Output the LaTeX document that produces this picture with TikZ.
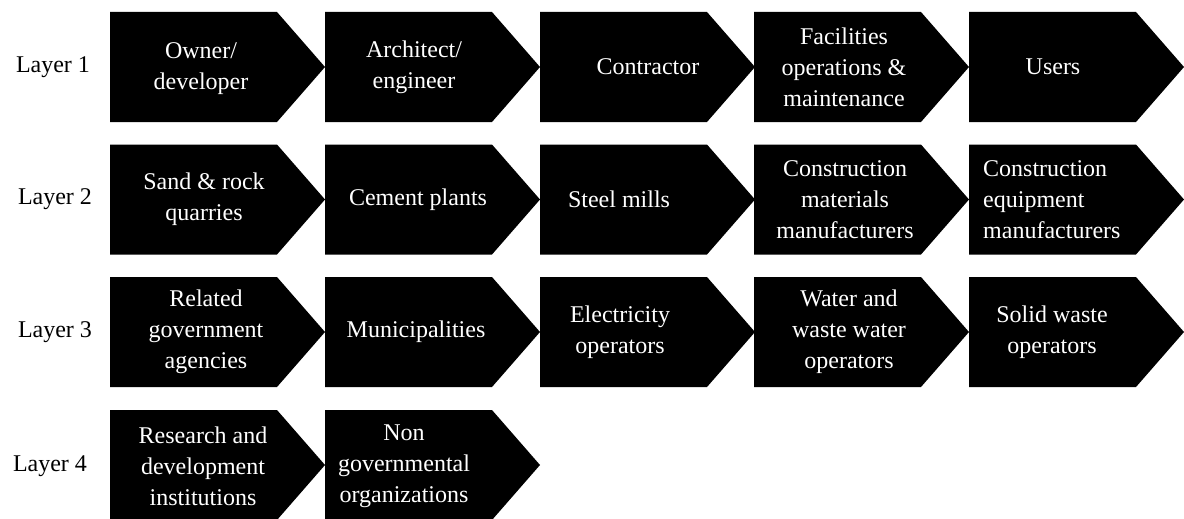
\documentclass[tikz,border=0pt]{standalone}
\usepackage{fontspec}
\setmainfont{Liberation Serif}
% black arrow-shaped box: flat left side, pointed right side
\newcommand\chevbox[2]{\fill[chev] (#1,#2) -- ++(167,0) -- ++(48,55) -- ++(-48,55) -- ++(-167,0) -- cycle;}
\begin{document}
\begin{tikzpicture}[x=1pt,y=-1pt,
  chev/.style={fill=black},
  lbl/.style={text=white,font=\fontsize{24}{31}\selectfont,align=center,inner sep=0pt},
  layer/.style={text=black,font=\fontsize{24}{29}\selectfont,inner sep=0pt}]
\useasboundingbox (0,0) rectangle (1184,519);

% boxes, row by row
\foreach \y in {12,144.5,277}{
  \foreach \x in {110,325,540,754,969}{\chevbox{\x}{\y}}
}
\foreach \x in {110,325}{\chevbox{\x}{410}}

% layer labels
\node[layer] (l1) at (53,67) {Layer 1};
\node[layer] (l2) at (55,199.5) {Layer 2};
\node[layer] (l3) at (55,332) {Layer 3};
\node[layer] (l4) at (50,466) {Layer 4};

% layer 1
\node[lbl] (owner) at (201,69) {Owner/\\developer};
\node[lbl] (arch) at (414,67) {Architect/\\engineer};
\node[lbl] (contr) at (648,67) {Contractor};
\node[lbl] (fac) at (844,67) {Facilities\\operations \&\\maintenance};
\node[lbl] (users) at (1053,67) {Users};

% layer 2
\node[lbl] (sand) at (204,199.5) {Sand \& rock\\quarries};
\node[lbl] (cement) at (418,199.5) {Cement plants};
\node[lbl] (steel) at (619,199.5) {Steel mills};
\node[lbl] (cmat) at (845,199.5) {Construction\\materials\\manufacturers};
\node[lbl,anchor=west,align=left] (cequip) at (983,199.5) {Construction\\equipment\\manufacturers};

% layer 3
\node[lbl] (gov) at (206,332) {Related\\government\\agencies};
\node[lbl] (muni) at (416,332) {Municipalities};
\node[lbl] (elec) at (620,332) {Electricity\\operators};
\node[lbl] (water) at (849,332) {Water and\\waste water\\operators};
\node[lbl] (solid) at (1052,332) {Solid waste\\operators};

% layer 4
\node[lbl] (rnd) at (203,466) {Research and\\development\\institutions};
\node[lbl] (ngo) at (404,466) {Non\\governmental\\organizations};
\end{tikzpicture}
\end{document}
